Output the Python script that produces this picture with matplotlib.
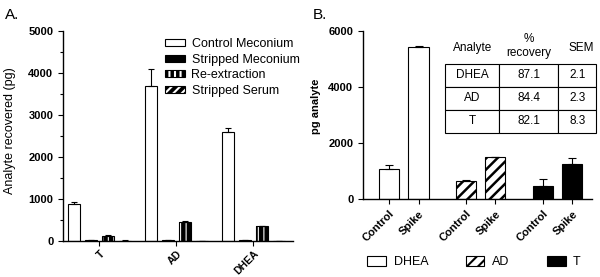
import numpy as np
import matplotlib.pyplot as plt
from matplotlib.patches import Patch

plt.rcParams["font.family"] = ["Liberation Sans", "DejaVu Sans"]
plt.rcParams["hatch.linewidth"] = 1.5

# Panel A: analyte recovered (pg)
analytes_a = ["T", "AD", "DHEA"]
series_a = ["Control Meconium", "Stripped Meconium", "Re-extraction", "Stripped Serum"]
control_meconium = [880, 3700, 2600]
control_meconium_err = [55, 385, 95]
stripped_meconium = [20, 30, 30]
stripped_meconium_err = [4, 4, 4]
re_extraction = [130, 450, 350]
re_extraction_err = [12, 15, 10]
stripped_serum = [10, 0, 0]
stripped_serum_err = [2, 0, 0]

# Panel B: pg analyte, control vs spike
b_ticklabels = ["Control", "Spike", "Control", "Spike", "Control", "Spike"]
b_groups = ["DHEA", "AD", "T"]
dhea_b = [1060, 5450]
dhea_b_err = [165, 35]
ad_b = [650, 1495]
ad_b_err = [12, 12]
t_b = [450, 1270]
t_b_err = [250, 200]

# recovery table
table_analytes = ["DHEA", "AD", "T"]
pct_recovery = ["87.1", "84.4", "82.1"]
sem = ["2.1", "2.3", "8.3"]


def thin_hatch(patch, lw):
    # hatch line width per patch where supported
    if hasattr(patch, "set_hatch_linewidth"):
        patch.set_hatch_linewidth(lw)


fig = plt.figure(figsize=(6, 2.77), dpi=100)

# ---------------- Panel A ----------------
ax_a = fig.add_axes([0.105, 0.130, 0.383, 0.758])
x = np.arange(len(analytes_a))
slot = 0.22
width = 0.16
a_values = [control_meconium, stripped_meconium, re_extraction, stripped_serum]
a_errors = [control_meconium_err, stripped_meconium_err, re_extraction_err, stripped_serum_err]
a_faces = ["white", "black", "black", "black"]
a_hatches = [None, None, "|||", "////"]
a_hatch_lw = [None, None, 0.8, 1.0]

for i in range(4):
    pos = x + (i - 1.5) * slot
    if a_hatches[i]:
        bars = ax_a.bar(pos, a_values[i], width, color=a_faces[i], edgecolor="white",
                        hatch=a_hatches[i], linewidth=0)
        for b in bars:
            thin_hatch(b, a_hatch_lw[i])
        ax_a.bar(pos, a_values[i], width, fill=False, edgecolor="black", linewidth=0.8)
    else:
        ax_a.bar(pos, a_values[i], width, color=a_faces[i], edgecolor="black", linewidth=0.8)
    ax_a.errorbar(pos, a_values[i], yerr=[np.zeros(len(pos)), a_errors[i]], fmt="none",
                  ecolor="black", elinewidth=0.8, capsize=2.5, capthick=0.8)

ax_a.set_xlim(-0.474, 2.513)
ax_a.set_ylim(0, 5000)
ax_a.set_yticks(np.arange(0, 5001, 1000))
ax_a.set_yticks(np.arange(500, 5000, 1000), minor=True)
ax_a.set_xticks(x)
ax_a.set_xticklabels(analytes_a, rotation=45, ha="right", rotation_mode="anchor",
                     fontsize=7.5, fontweight="bold")
for lab in ax_a.get_yticklabels():
    lab.set_fontweight("bold")
    lab.set_fontsize(8)
ax_a.set_ylabel("Analyte recovered (pg)", fontsize=9)
ax_a.yaxis.set_label_coords(-0.205, 0.524)

h3 = Patch(facecolor="black", edgecolor="white", hatch="|||", linewidth=0)
h4 = Patch(facecolor="black", edgecolor="white", hatch="////", linewidth=0)
thin_hatch(h3, 0.8)
thin_hatch(h4, 1.0)
legend_a_handles = [
    Patch(facecolor="white", edgecolor="black", linewidth=0.8),
    Patch(facecolor="black", edgecolor="black", linewidth=0.8),
    (h3, Patch(fill=False, edgecolor="black", linewidth=0.8)),
    (h4, Patch(fill=False, edgecolor="black", linewidth=0.8)),
]
ax_a.legend(legend_a_handles, series_a, loc="upper left", bbox_to_anchor=(0.265, 0.886),
            bbox_transform=fig.transFigure, frameon=False, fontsize=9, borderpad=0,
            handlelength=1.6, handleheight=0.5, handletextpad=0.5, labelspacing=0.3)

# ---------------- Panel B ----------------
ax_b = fig.add_axes([0.605, 0.2816, 0.382, 0.6054])
xb = np.array([0, 1, 2.6, 3.6, 5.2, 6.2])
bw = 0.68
ax_b.bar(xb[0:2], dhea_b, bw, color="white", edgecolor="black", linewidth=0.8)
ad_bars = ax_b.bar(xb[2:4], ad_b, bw, color="white", edgecolor="black", hatch="///", linewidth=0.8)
for b in ad_bars:
    thin_hatch(b, 1.8)
ax_b.bar(xb[4:6], t_b, bw, color="black", edgecolor="black", linewidth=0.8)
for pos, vals, errs in [(xb[0:2], dhea_b, dhea_b_err), (xb[2:4], ad_b, ad_b_err),
                        (xb[4:6], t_b, t_b_err)]:
    ax_b.errorbar(pos, vals, yerr=[np.zeros(2), errs], fmt="none", ecolor="black",
                  elinewidth=0.8, capsize=3, capthick=0.8)

ax_b.set_xlim(-0.88, 6.88)
ax_b.set_ylim(0, 6000)
ax_b.set_yticks([0, 2000, 4000, 6000])
ax_b.set_xticks(xb)
ax_b.set_xticklabels(b_ticklabels, rotation=45, ha="right", rotation_mode="anchor",
                     fontsize=8, fontweight="bold")
for lab in ax_b.get_yticklabels():
    lab.set_fontweight("bold")
    lab.set_fontsize(8)
ax_b.set_ylabel("pg analyte", fontsize=8, fontweight="bold")
ax_b.yaxis.set_label_coords(-0.183, 0.555)

cell_text = [[a, r, s] for a, r, s in zip(table_analytes, pct_recovery, sem)]
col_w = np.array([54.3, 59.0, 37.7])
tbl = ax_b.table(cellText=cell_text, cellLoc="center", colWidths=list(col_w / col_w.sum()),
                 bbox=[0.358, 0.395, 0.659, 0.41])
tbl.auto_set_font_size(False)
tbl.set_fontsize(8.5)
for cell in tbl.get_celld().values():
    cell.set_linewidth(0.8)
    cell.set_clip_on(False)
ax_b.text(0.479, 0.902, "Analyte", transform=ax_b.transAxes, ha="center", va="center", fontsize=8.5)
ax_b.text(0.725, 0.912, "%\nrecovery", transform=ax_b.transAxes, ha="center", va="center",
          fontsize=8.5, linespacing=1.2)
ax_b.text(0.952, 0.902, "SEM", transform=ax_b.transAxes, ha="center", va="center", fontsize=8.5)

hb2 = Patch(facecolor="white", edgecolor="black", hatch="///", linewidth=0.8)
thin_hatch(hb2, 1.8)
legend_b_handles = [
    Patch(facecolor="white", edgecolor="black", linewidth=0.8),
    hb2,
    Patch(facecolor="black", edgecolor="black", linewidth=0.8),
]
fig.legend(legend_b_handles, b_groups, ncol=3, loc="center", bbox_to_anchor=(0.79, 0.054),
           frameon=False, fontsize=9, handlelength=1.5, handleheight=0.9,
           handletextpad=0.6, columnspacing=3.0)

for ax in (ax_a, ax_b):
    ax.spines["top"].set_visible(False)
    ax.spines["right"].set_visible(False)
    ax.spines["left"].set_linewidth(1.0)
    ax.spines["bottom"].set_linewidth(1.0)
    ax.tick_params(which="both", direction="out", width=0.8)
    ax.tick_params(which="major", length=3.5)
    ax.tick_params(which="minor", length=2.5)
ax_a.tick_params(axis="x", pad=2)

fig.text(5 / 600, 0.930, "A.", fontsize=11, va="baseline")
fig.text(313 / 600, 0.930, "B.", fontsize=11, va="baseline")

fig.savefig("out.png", dpi=100)
